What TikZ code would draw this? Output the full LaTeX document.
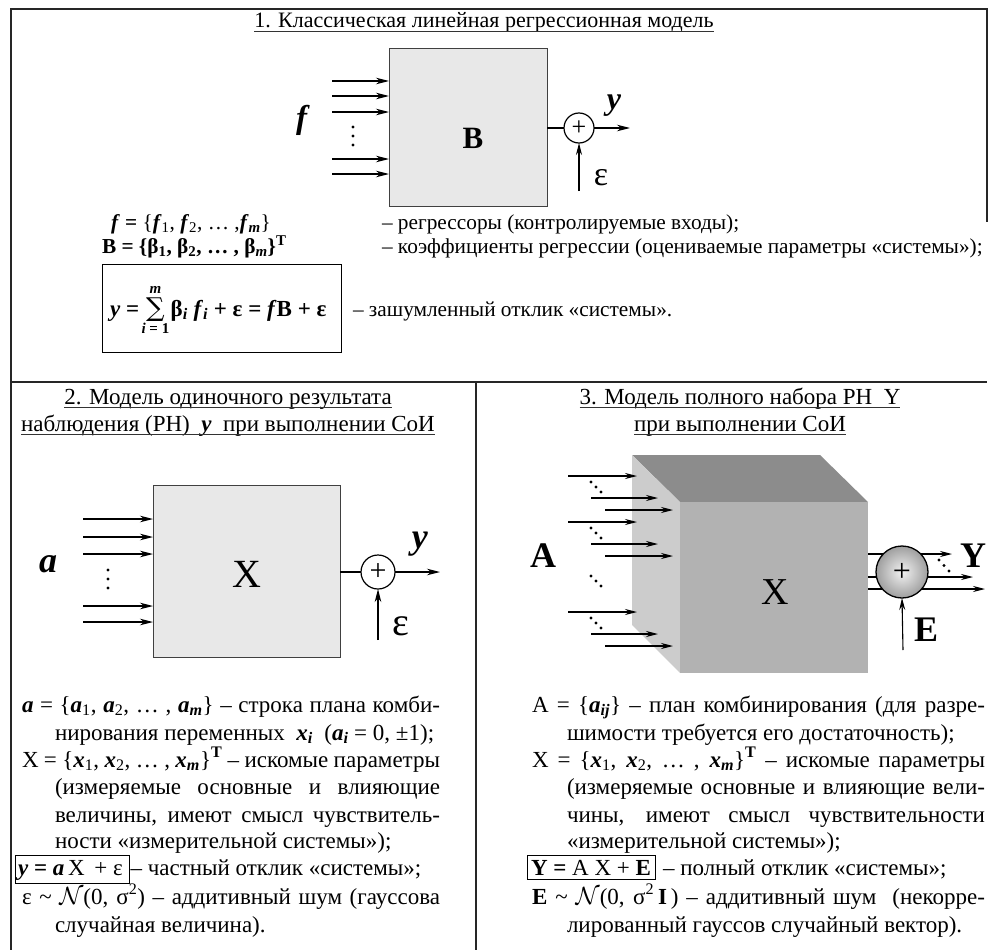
\documentclass[tikz,border=0pt]{standalone}
\usepackage{fontspec}
\setmainfont{Liberation Serif}
\newfontfamily\symf{DejaVu Serif}
\usetikzlibrary{arrows.meta,calc}
\newcommand\bi[1]{\textbf{\textit{#1}}}
\newcommand\sbs[1]{\textsubscript{#1}}
\newcommand\sps[1]{\textsuperscript{#1}}
\newcommand\fsz[1]{\fontsize{#1}{#1}\selectfont}
\newcommand\jline[4]{\node[txt, anchor=base west] at (#1,#2) {\makebox[#3][s]{#4}};}
\newcommand\nline[3]{\node[txt, anchor=base west] at (#1,#2) {#3};}
\tikzset{
  frame/.style={line width=2pt, draw=black!85},
  uline/.style={line width=1pt, draw=black!80},
  txt/.style={font=\fontsize{23}{27}\selectfont},
  txtop/.style={font=\fontsize{21.3}{25}\selectfont},
  blk/.style={draw=black!75, line width=1pt, fill=black!9, inner sep=0pt},
  arr/.style={-{Stealth[length=13pt,width=6.5pt,inset=4pt]}, line width=1.3pt},
  arrthin/.style={-{Stealth[length=12pt,width=6pt,inset=4pt]}, line width=1.1pt},
  sumnode/.style={circle, draw, line width=1.2pt, fill=white, inner sep=0pt},
  dot/.style={fill=black},
}
\begin{document}
\begin{tikzpicture}[x=1pt,y=-1pt, every node/.style={inner sep=0pt, outer sep=0pt}]
\fill[white] (0,0) rectangle (999,950);
\useasboundingbox (0,0) rectangle (999,950);

% ---------- frame ----------
\draw[frame] (11,950) -- (11,9) -- (987,9) -- (987,222);
\draw[frame] (11,382) -- (987,382);
\draw[frame] (476,382) -- (476,950);

% ---------- section 1 ----------
\node[font=\fontsize{22}{26}\selectfont, anchor=base] (t1) at (484,28) {1. Классическая линейная регрессионная модель};
\draw[uline] ([yshift=-3.5pt]t1.base west) -- ([yshift=-3.5pt]t1.base east);

\node[blk, minimum width=158pt, minimum height=157pt, anchor=north west] (bB) at (389,49) {};
\node[font=\fsz{31}] (lB) at (473,138) {\textbf{B}};
\node[font=\fsz{33}] (lf) at (303,120) {\bi{f}};
\foreach \yy [count=\i] in {81,96,112,159,174} {
  \coordinate (fi\i) at (332,\yy);
  \draw[arr] (fi\i) -- (fi\i -| bB.west);
}
\foreach \yy in {127,136,145} \fill[dot] (353,\yy) circle (1.7);
\node[sumnode, minimum size=30pt] (c1) at (579,128) {};
\node[font=\fsz{26}] at (c1.center) {+};
\coordinate (o1) at (630,128);
\coordinate (e1) at (579,191);
\draw[line width=1.3pt] (bB.east |- c1) -- (c1.west);
\draw[arr] (c1.east) -- (o1);
\draw[arrthin] (e1) -- (c1.south);
\node[font=\fsz{32}] (ly1) at (614,106) {\bi{y}};
\node[font=\fsz{34}] (le1) at (601,178) {ε};

\node[txtop, anchor=base west] (r1a) at (111,229) {\bi{f} \textbf{=} \{\bi{f}\sbs{1}, \bi{f}\sbs{2}, … ,\bi{f}\sbs{\bi{m}}\}};
\node[txtop, anchor=base west] (r1b) at (382,229) {– регрессоры (контролируемые входы);};
\node[txtop, anchor=base west] (r2a) at (102,253) {\textbf{B = \{β\sbs{1}, β\sbs{2}, … , β\sbs{\textit{m}}\}\sps{T}}};
\node[txtop, anchor=base west] (r2b) at (382,253) {– коэффициенты регрессии (оцениваемые параметры «системы»);};

\node[draw, line width=1pt, minimum width=239pt, minimum height=88pt, anchor=north west] (fbox) at (102,264) {};
\node[font=\fontsize{23}{27}\selectfont, anchor=base west] (s1) at (110,316) {\bi{y} \textbf{=}};
\node[anchor=base west, font=\symf\fsz{26}] (sig) at ([xshift=7pt]s1.base east) {∑};
\node[anchor=south, font=\fsz{15}] (sm) at ([yshift=4pt]sig.north) {\bi{m}};
\node[anchor=north, font=\fsz{15}] (si) at ([yshift=-2pt]sig.south) {\bi{i} \textbf{= 1}};
\node[font=\fontsize{23}{27}\selectfont, anchor=base west] (s2) at ([xshift=6pt]sig.base east) {\textbf{β\sbs{\textit{i}} \bi{f}\sbs{\textit{i}} + ε = \bi{f}B + ε}};
\node[txtop, anchor=base west] (r3b) at (353,316) {– зашумленный отклик «системы».};

% ---------- section 2 ----------
\node[txt, anchor=base] (t2a) at (228,404) {2. Модель одиночного результата};
\draw[uline] ([yshift=-3.5pt]t2a.base west) -- ([yshift=-3.5pt]t2a.base east);
\node[txt, anchor=base] (t2b) at (228,431) {наблюдения (РН)\ \ \bi{y}\ \ при выполнении СоИ};
\draw[uline] ([yshift=-3.5pt]t2b.base west) -- ([yshift=-3.5pt]t2b.base east);

\node[blk, minimum width=187pt, minimum height=172pt, anchor=north west] (bX) at (153,485) {};
\node[font=\fsz{40}] (lX) at (247,574) {X};
\node[font=\fsz{36}] (la) at (48,564) {\bi{a}};
\foreach \yy [count=\i] in {519,537,554,606,622} {
  \coordinate (ai\i) at (83,\yy);
  \draw[arr] (ai\i) -- (ai\i -| bX.west);
}
\foreach \yy in {570,579,588} \fill[dot] (108,\yy) circle (1.7);
\node[sumnode, minimum size=34pt] (c2) at (378,572) {};
\node[font=\fsz{30}] at (c2.center) {+};
\coordinate (o2) at (440,572);
\coordinate (e2) at (378,640);
\draw[line width=1.2pt] (bX.east |- c2) -- (c2.west);
\draw[arr] (c2.east) -- (o2);
\draw[arr] (e2) -- (c2.south);
\node[font=\fsz{36}] (ly2) at (420,544) {\bi{y}};
\node[font=\fsz{40}] (le2) at (401,626) {ε};

\jline{22}{712}{418pt}{\bi{a} = \{\bi{a}\sbs{1}, \bi{a}\sbs{2}, … , \bi{a}\sbs{\bi{m}}\} – строка плана комби-}
\nline{55}{740}{нирования переменных\ \ \bi{x}\sbs{\bi{i}}\ \ (\bi{a}\sbs{\bi{i}} = 0, ±1);}
\jline{22}{767}{418pt}{X = \{\bi{x}\sbs{1}, \bi{x}\sbs{2}, … , \bi{x}\sbs{\bi{m}}\}\sps{\textbf{T}} – искомые параметры}
\jline{55}{794}{385pt}{(измеряемые основные и влияющие}
\jline{55}{822}{385pt}{величины, имеют смысл чувствитель-}
\nline{55}{848}{ности «измерительной системы»);}
\node[txt, draw, line width=1pt, inner xsep=3pt, inner ysep=4pt, anchor=base west] (eq2) at (15,875) {\bi{y} \textbf{=} \bi{a}\,X\, + ε\,};
\node[txt, anchor=base west] (eq2t) at ([xshift=1pt]eq2.base east) {– частный отклик «системы»;};
\jline{22}{904}{418pt}{ε \textasciitilde\ $\mathcal{N}$(0, σ\sps{2}) – аддитивный шум (гауссова}
\nline{55}{932}{случайная величина).}

% ---------- section 3 ----------
\node[txt, anchor=base] (t3a) at (740,404) {3. Модель полного набора РН\ \ Y};
\draw[uline] ([yshift=-3.5pt]t3a.base west) -- ([yshift=-3.5pt]t3a.base east);
\node[txt, anchor=base] (t3b) at (740,431) {при выполнении СоИ};
\draw[uline] ([yshift=-3.5pt]t3b.base west) -- ([yshift=-3.5pt]t3b.base east);

% cube
\fill[black!45] (632,455) -- (820,455) -- (868,502) -- (680,502) -- cycle;
\fill[black!20] (632,455) -- (680,502) -- (680,673) -- (632,625) -- cycle;
\fill[black!30] (680,502) rectangle (868,673);
\node[font=\fsz{38}] (lX3) at (775,592) {X};
\node[font=\fsz{36}] (lA) at (543,556) {\textbf{A}};

\foreach \g in {476,522,612} {
  \draw[arrthin] (568,\g) -- (637,\g);
  \draw[arrthin] (591,\g+22) -- (658,\g+22);
  \draw[arrthin] (605,\g+34) -- (673,\g+34);
  \foreach \k in {0,1,2} \fill[dot] (591+5*\k,\g+6+5*\k) circle (1.6);
}
\foreach \k in {0,1,2} \fill[dot] (591+5*\k,576+5*\k) circle (1.6);

\coordinate (q1) at (868,554);
\coordinate (q2) at (868,577);
\coordinate (q3) at (868,589);
\draw[arrthin] (q1) -- (952,554);
\draw[arrthin] (q2) -- (973,577);
\draw[arrthin] (q3) -- (985,589);
\node[circle, draw, line width=1.3pt, minimum size=52pt, shade, inner color=black!5, outer color=black!38] (c3) at (902,572) {};
\node[font=\fsz{32}] at (c3.center) {+};
\foreach \k in {0,1,2} \fill[dot] (939+5*\k,560+5.5*\k) circle (1.6);
\coordinate (e3) at (903,650);
\draw[arrthin] (e3) -- (c3.south);
\node[font=\fsz{36}] (lY) at (973,556) {\textbf{Y}};
\node[font=\fsz{36}] (lE) at (926,630) {\textbf{E}};

\jline{532}{712}{453pt}{A = \{\bi{a}\sbs{\bi{ij}}\} – план комбинирования (для разре-}
\nline{567}{740}{шимости требуется его достаточность);}
\jline{532}{767}{453pt}{X = \{\bi{x}\sbs{1}, \bi{x}\sbs{2}, … , \bi{x}\sbs{\bi{m}}\}\sps{\textbf{T}} – искомые параметры}
\jline{567}{794}{418pt}{(измеряемые основные и влияющие вели-}
\jline{567}{822}{418pt}{чины, имеют смысл чувствительности}
\nline{567}{848}{«измерительной системы»);}
\node[txt, draw, line width=1pt, inner xsep=4pt, inner ysep=4pt, anchor=base west] (eq3) at (527,875) {\textbf{Y =} A X + \textbf{E}};
\node[txt, anchor=base west] (eq3t) at ([xshift=8pt]eq3.base east) {– полный отклик «системы»;};
\jline{532}{904}{453pt}{\textbf{E} \textasciitilde\ $\mathcal{N}$(0, σ\sps{2}\,\textbf{I}\,) – аддитивный шум\ \ (некорре-}
\nline{567}{932}{лированный гауссов случайный вектор).}
\end{tikzpicture}
\end{document}
